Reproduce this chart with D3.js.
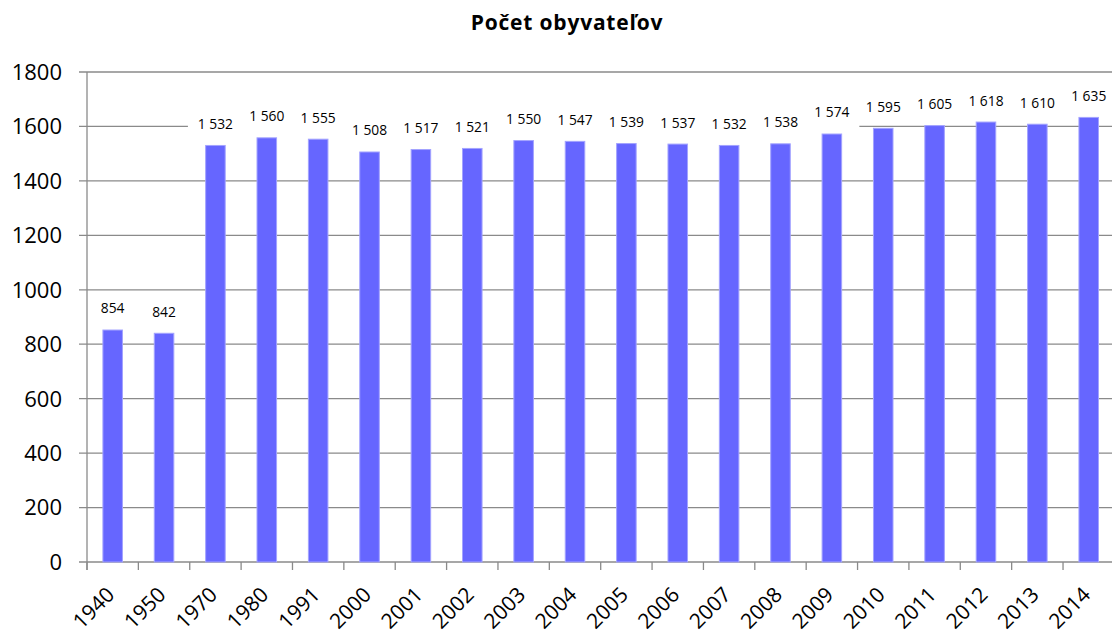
<!DOCTYPE html>
<html><head><meta charset="utf-8">
<script src="https://cdn.jsdelivr.net/npm/d3@7"></script>
<style>body{margin:0;background:#fff;} svg{display:block;}</style>
</head><body>
<svg id="c" width="1112" height="637"></svg>
<script>
const title = "Počet obyvateľov";
const categories = ["1940","1950","1970","1980","1991","2000","2001","2002","2003","2004","2005","2006","2007","2008","2009","2010","2011","2012","2013","2014"];
const values = [854,842,1532,1560,1555,1508,1517,1521,1550,1547,1539,1537,1532,1538,1574,1595,1605,1618,1610,1635];
const yTicks = [0,200,400,600,800,1000,1200,1400,1600,1800];

(function(){
const svg = d3.select("#c");
const font = "'Open Sans', 'Noto Sans', sans-serif";
const pLeft = 87, pRight = 1114.4, pTop = 72, pBottom = 562;
const x = d3.scaleBand().domain(categories).range([pLeft, pRight]).paddingInner(0.6).paddingOuter(0.3);
const y = d3.scaleLinear().domain([0,1800]).range([pBottom, pTop]);
const step = x.step();
const grid = "#8a8a8a";

svg.append("text").attr("x", 567).attr("y", 30).attr("text-anchor","middle")
  .attr("font-family", font).attr("font-weight","bold").attr("font-size", 21)
  .attr("letter-spacing", 0.8).text(title);

// gridlines
svg.append("g").selectAll("line").data(yTicks).join("line")
  .attr("x1", pLeft - 8).attr("x2", 1112).attr("y1", d => y(d)).attr("y2", d => y(d))
  .attr("stroke", grid).attr("stroke-width", 1.3);

// y labels
svg.append("g").selectAll("text").data(yTicks).join("text")
  .attr("x", 62).attr("y", d => y(d)).attr("dy","0.36em").attr("text-anchor","end")
  .attr("font-family", font).attr("font-size", 22).attr("fill","#000").text(d => d);

// bars
svg.append("g").selectAll("rect").data(values).join("rect")
  .attr("x", (d,i) => x(categories[i]) + 0.5).attr("width", x.bandwidth() - 1)
  .attr("y", d => y(d) + 0.5).attr("height", d => y(0) - y(d) - 0.5)
  .attr("fill", "#6666ff").attr("stroke", "#a3a3ff").attr("stroke-width", 1);

const fmt = v => d3.format(",")(v).replace(",", " ");
const cx = i => x(categories[i]) + x.bandwidth()/2;

// label backgrounds
svg.append("g").selectAll("rect").data(values).join("rect")
  .attr("x", (d,i) => cx(i) - 27.5).attr("width", 55)
  .attr("y", d => y(d) - 21 - 12).attr("height", 28).attr("fill", "#fff");

svg.append("g").selectAll("text").data(values).join("text")
  .attr("x", (d,i) => cx(i)).attr("y", d => y(d) - 21).attr("dy","0.36em")
  .attr("text-anchor","middle").attr("font-family", font).attr("font-size", 13.8)
  .attr("fill","#000").text(d => fmt(d));

// axes lines
svg.append("line").attr("x1", pLeft).attr("x2", pLeft).attr("y1", pTop).attr("y2", pBottom + 8)
  .attr("stroke", grid).attr("stroke-width", 1.3);
const bounds = categories.map(c => x(c) - step*0.3);
svg.append("g").selectAll("line").data(bounds).join("line")
  .attr("x1", d => d).attr("x2", d => d).attr("y1", pBottom).attr("y2", pBottom + 8)
  .attr("stroke", grid).attr("stroke-width", 1.3);

// x labels rotated
svg.append("g").selectAll("text").data(categories).join("text")
  .attr("transform", (d,i) => `translate(${cx(i) + 3},${pBottom + 34}) rotate(-45)`)
  .attr("text-anchor","end")
  .attr("font-family", font).attr("font-size", 21).attr("fill","#000").text(d => d);
})();
</script>
</body></html>
